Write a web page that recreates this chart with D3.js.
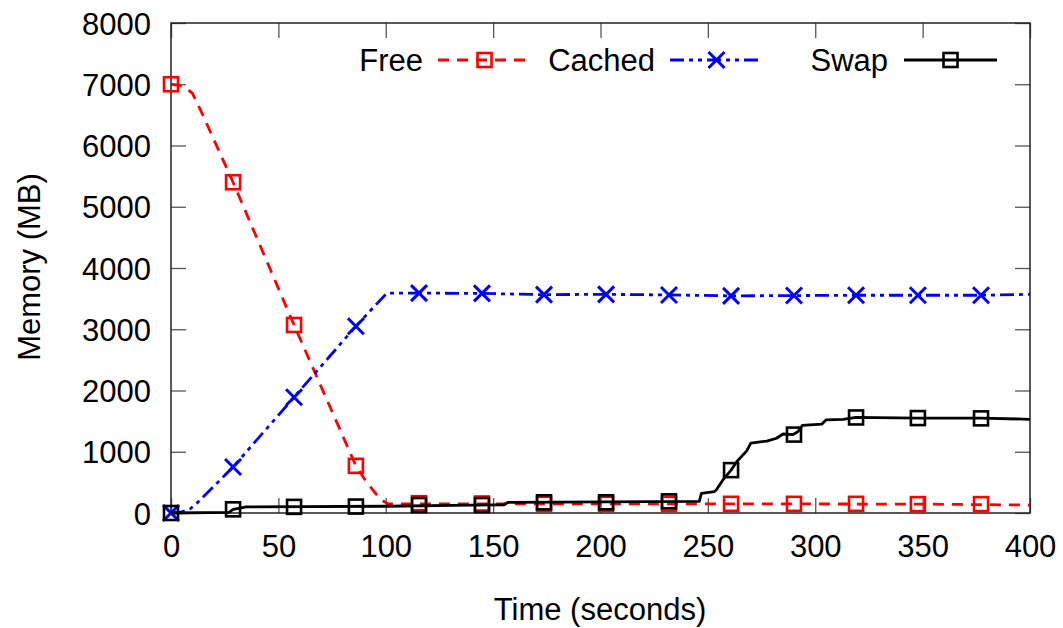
<!DOCTYPE html>
<html><head><meta charset="utf-8">
<script src="https://cdn.jsdelivr.net/npm/d3@7"></script>
<style>body{margin:0;background:#fff}svg{display:block}text{font-family:"Liberation Sans",Arial,Helvetica,sans-serif}</style>
</head><body><svg id="c" width="1063" height="628"></svg>
<script>
// ---- data ----
const xTicks = [0, 50, 100, 150, 200, 250, 300, 350, 400];
const yTicks = [0, 1000, 2000, 3000, 4000, 5000, 6000, 7000, 8000];

const freeT = [0, 4, 7, 10, 14, 28.9, 57.3, 86.1, 90, 95, 98, 101, 150, 250, 350, 400];
const freeV = [7000, 6980, 6940, 6850, 6560, 5400, 3070, 770, 560, 330, 210, 150, 150, 150, 145, 130];

const cachedT = [0, 5, 9, 12, 28.9, 57.3, 86.1, 100.5, 115.5, 144.8, 173.7, 202.6, 231.9, 260.8, 290.1, 319, 347.8, 377.2, 400];
const cachedV = [0, 20, 70, 160, 750, 1890, 3050, 3590, 3590, 3585, 3565, 3570, 3560, 3545, 3550, 3555, 3555, 3555, 3570];

const swapT = [0, 27, 29, 35, 100, 140, 155, 157, 246, 247, 253, 254, 257, 260.8, 263.5, 268, 270, 277.5, 282, 285, 289.6, 292, 294, 303, 305, 313, 319, 348, 377, 400];
const swapV = [0, 10, 60, 100, 110, 130, 135, 175, 190, 320, 350, 380, 540, 700, 840, 1010, 1140, 1175, 1220, 1290, 1280, 1330, 1430, 1450, 1520, 1530, 1560, 1550, 1550, 1530];

const markT = [0, 28.9, 57.3, 86.1, 115.5, 144.8, 173.7, 202.6, 231.9, 260.8, 290.1, 319, 347.8, 377.2];
const freeMarkV = [7000, 5400, 3070, 770, 160, 155, 150, 150, 150, 150, 150, 150, 145, 145];
const cachedMarkV = [0, 750, 1890, 3050, 3590, 3585, 3565, 3570, 3560, 3545, 3550, 3555, 3555, 3555];
const swapMarkV = [0, 60, 100, 105, 130, 130, 175, 175, 190, 700, 1280, 1560, 1550, 1545];

const seriesNames = ["Free", "Cached", "Swap"];
const seriesColors = ["#ff0000", "#0000ff", "#000000"];

// ---- layout ----
const L = 171, R = 1030, T = 23, B = 513;
const FS = 31;
const svg = d3.select("#c");
const x = d3.scaleLinear().domain([0, 400]).range([L, R]);
const y = d3.scaleLinear().domain([0, 8000]).range([B, T]);

// axes with inward ticks
const tickLen = 15;
const gx = svg.append("g").attr("transform", `translate(0,${B})`)
  .call(d3.axisBottom(x).tickValues(xTicks).tickSize(-tickLen).tickPadding(tickLen + 20).tickFormat(d3.format("d")));
const gxt = svg.append("g").attr("transform", `translate(0,${T})`)
  .call(d3.axisTop(x).tickValues(xTicks).tickSize(-tickLen).tickFormat(""));
const gy = svg.append("g").attr("transform", `translate(${L},0)`)
  .call(d3.axisLeft(y).tickValues(yTicks).tickSize(-tickLen).tickPadding(tickLen + 5).tickFormat(d3.format("d")));
const gyr = svg.append("g").attr("transform", `translate(${R},0)`)
  .call(d3.axisRight(y).tickValues(yTicks).tickSize(-tickLen).tickFormat(""));
[gx, gxt, gy, gyr].forEach(g => {
  g.select(".domain").remove();
  g.selectAll(".tick line").attr("stroke", "#555").attr("stroke-width", 1.3);
  g.selectAll(".tick text").attr("font-size", FS).attr("fill", "#000").attr("font-family", '"Liberation Sans",Arial,sans-serif');
});
gx.selectAll(".tick text").attr("dy", "0.3em");
gy.selectAll(".tick text").attr("dy", "0.36em");

svg.append("rect").attr("x", L).attr("y", T).attr("width", R - L).attr("height", B - T)
  .attr("fill", "none").attr("stroke", "#222").attr("stroke-width", 1.5);

// axis titles
svg.append("text").attr("x", 600).attr("y", 620).attr("text-anchor", "middle").attr("font-size", FS).text("Time (seconds)");
svg.append("text").attr("transform", "translate(40,267) rotate(-90)").attr("text-anchor", "middle").attr("font-size", FS).text("Memory (MB)");

// lines
const line = d3.line().x(d => x(d[0])).y(d => y(d[1]));
const dashes = ["11,8", "14,5,4,5,4,5", null];
const lineData = [
  d3.zip(freeT, freeV),
  d3.zip(cachedT, cachedV),
  d3.zip(swapT, swapV)
];
const markData = [
  d3.zip(markT, freeMarkV),
  d3.zip(markT, cachedMarkV),
  d3.zip(markT, swapMarkV)
];
const markerType = ["square", "x", "square"];

function drawMarker(g, cx, cy, type, color) {
  if (type === "square") {
    g.append("rect").attr("x", cx - 7).attr("y", cy - 7).attr("width", 14).attr("height", 14)
      .attr("fill", "none").attr("stroke", color).attr("stroke-width", 2.6);
  } else {
    const s = 8;
    g.append("path").attr("d", `M${cx - s},${cy - s}L${cx + s},${cy + s}M${cx - s},${cy + s}L${cx + s},${cy - s}`)
      .attr("stroke", color).attr("stroke-width", 3).attr("fill", "none");
  }
}

for (let i = 0; i < 3; i++) {
  const g = svg.append("g");
  g.append("path").datum(lineData[i]).attr("d", line)
    .attr("fill", "none").attr("stroke", seriesColors[i]).attr("stroke-width", 2.8)
    .attr("stroke-dasharray", dashes[i]).attr("stroke-linejoin", "round");
  markData[i].forEach(d => drawMarker(g, x(d[0]), y(d[1]), markerType[i], seriesColors[i]));
}

// legend
const legTextEnd = [423, 655, 888];
const legLineStart = [438, 670, 904];
const legLineLen = 93;
const legY = 60;
for (let i = 0; i < 3; i++) {
  const g = svg.append("g");
  g.append("text").attr("x", legTextEnd[i]).attr("y", legY + 11).attr("text-anchor", "end")
    .attr("font-size", FS).text(seriesNames[i]);
  g.append("line").attr("x1", legLineStart[i]).attr("x2", legLineStart[i] + legLineLen)
    .attr("y1", legY).attr("y2", legY).attr("stroke", seriesColors[i]).attr("stroke-width", 2.8)
    .attr("stroke-dasharray", dashes[i]);
  drawMarker(g, legLineStart[i] + legLineLen / 2, legY, markerType[i], seriesColors[i]);
}
</script></body></html>
